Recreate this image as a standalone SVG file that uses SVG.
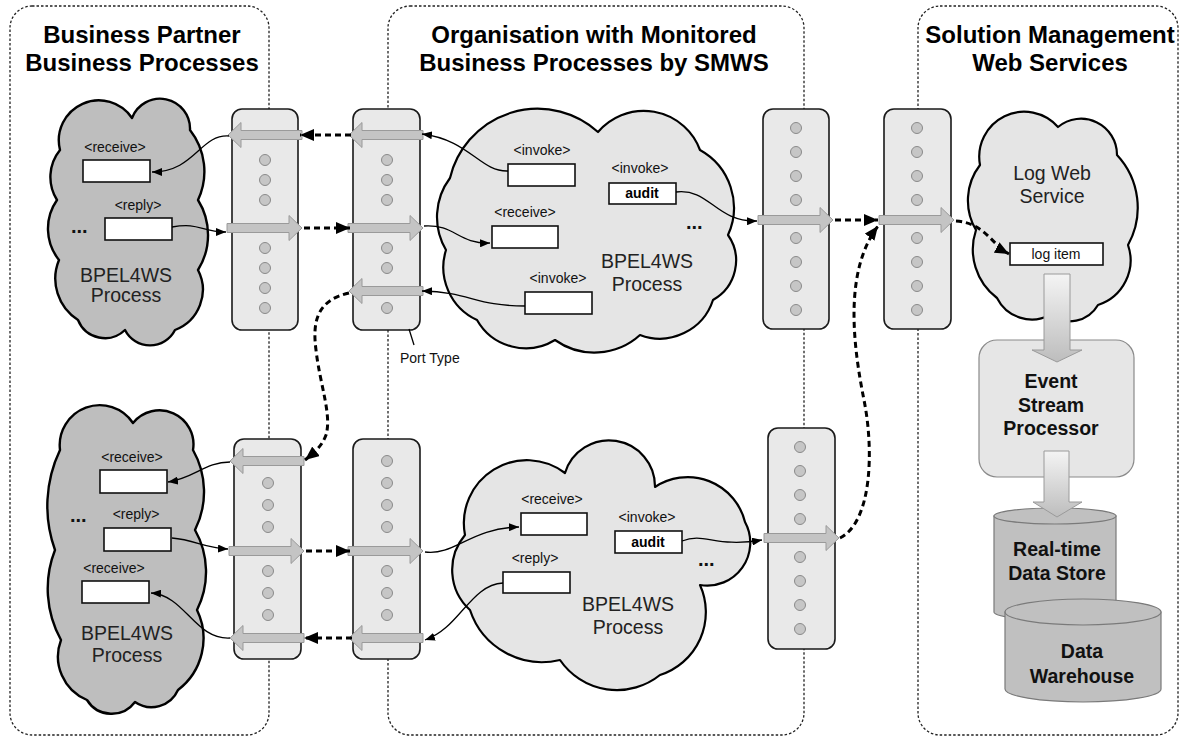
<svg xmlns="http://www.w3.org/2000/svg" width="1184" height="738" viewBox="0 0 1184 738">
  <style>
    .panel{fill:none;stroke:#222;stroke-width:1.3;stroke-dasharray:2.5 2}
    .port{fill:#e9e9e9;stroke:#1a1a1a;stroke-width:1.6}
    .dot{fill:#c6c6c6;stroke:#8a8a8a;stroke-width:1}
    .garrow{fill:#c4c4c4;stroke:#9a9a9a;stroke-width:1}
    .cloudD{fill:#bebebe;stroke:#000;stroke-width:2.4;stroke-linejoin:round}
    .cloudL{fill:#e5e5e5;stroke:#000;stroke-width:2.2;stroke-linejoin:round}
    .box{fill:#fff;stroke:#111;stroke-width:1.6}
    .flow{fill:none;stroke:#000;stroke-width:1.3;marker-end:url(#ah)}
    .msg{fill:none;stroke:#000;stroke-width:3;stroke-dasharray:6 4;marker-end:url(#ahB)}
    .h{font-family:'Liberation Sans',Arial,sans-serif;font-weight:bold;font-size:24px;text-anchor:middle;fill:#000}
    .tag{font-family:'Liberation Sans',Arial,sans-serif;font-size:14px;text-anchor:middle;fill:#111}
    .lbl{font-family:'Liberation Sans',Arial,sans-serif;font-size:14px;fill:#111}
    .bold14{font-family:'Liberation Sans',Arial,sans-serif;font-size:14px;font-weight:bold;text-anchor:middle;fill:#000}
    .proc{font-family:'Liberation Sans',Arial,sans-serif;font-size:19.5px;text-anchor:middle;fill:#222}
    .store{font-family:'Liberation Sans',Arial,sans-serif;font-size:19.5px;font-weight:bold;text-anchor:middle;fill:#111}
    .dots{font-family:'Liberation Sans',Arial,sans-serif;font-size:20px;font-weight:bold;fill:#111}
    .fat{fill:url(#fade);stroke:#9a9a9a;stroke-width:1}
    .sys{fill:#e6e6e6;stroke:#8a8a8a;stroke-width:1.2}
    .cyl{fill:#c0c0c0;stroke:#7a7a7a;stroke-width:1.2}
  </style>
  <defs>
    <marker id="ah" viewBox="0 0 10 8" refX="10" refY="4" markerWidth="10" markerHeight="8" orient="auto" markerUnits="userSpaceOnUse">
      <path d="M0,0 L10,4 L0,8 z" fill="#000"/>
    </marker>
    <marker id="ahB" viewBox="0 0 14 12" refX="14" refY="6" markerWidth="14" markerHeight="12" orient="auto" markerUnits="userSpaceOnUse">
      <path d="M0,0 L14,6 L0,12 z" fill="#000"/>
    </marker>
    <linearGradient id="fade" x1="0" y1="0" x2="0" y2="1">
      <stop offset="0" stop-color="#f4f4f4"/>
      <stop offset="1" stop-color="#bdbdbd"/>
    </linearGradient>
    <!-- grey operation arrows crossing a port type -->
    <path id="opR" d="M0,-4.5 H62 V-12.5 L75,0 L62,12.5 V4.5 H0 Z"/>
    <path id="opL" d="M74,-4.5 H13 V-12.5 L0,0 L13,12.5 V4.5 H74 Z"/>
  </defs>

  <!-- organisational swimlanes -->
  <g id="lanes">
    <rect class="panel" x="10" y="6" width="259" height="729" rx="22"/>
    <rect class="panel" x="388" y="6" width="416" height="729" rx="22"/>
    <rect class="panel" x="918" y="6" width="260" height="729" rx="22"/>
    <text class="h" x="142" y="43">Business Partner</text>
    <text class="h" x="142" y="71">Business Processes</text>
    <text class="h" x="594" y="43">Organisation with Monitored</text>
    <text class="h" x="594" y="71">Business Processes by SMWS</text>
    <text class="h" x="1050" y="43">Solution Management</text>
    <text class="h" x="1050" y="71">Web Services</text>
  </g>

  <!-- partner process (top) -->
  <g id="partner-process-1">
    <path class="cloudD" d="M60,150 A40,40 0 0 1 132,118 A30,30 0 0 1 190,130 A67,67 0 0 1 198,200 A66,66 0 0 1 198,270 A43,43 0 0 1 175,330 A28,28 0 0 1 125,330 A29,29 0 0 1 78,320 A49,49 0 0 1 59,260 A50,50 0 0 1 57,200 A43,43 0 0 1 60,150 Z"/>
    <text class="tag" x="115" y="152">&lt;receive&gt;</text>
    <rect class="box" x="83" y="160" width="67" height="22"/>
    <text class="tag" x="138" y="210">&lt;reply&gt;</text>
    <rect class="box" x="105" y="218" width="67" height="22"/>
    <text class="dots" x="71" y="233">...</text>
    <text class="proc" x="126" y="282">BPEL4WS</text>
    <text class="proc" x="126" y="302">Process</text>
  </g>

  <!-- partner process (bottom) -->
  <g id="partner-process-2">
    <path class="cloudD" d="M60,450 A40,40 0 0 1 133,423 A34,34 0 0 1 193,450 A85,85 0 0 1 195,530 A85,85 0 0 1 197,610 A65,65 0 0 1 178,690 A29,29 0 0 1 135,702 A29,29 0 0 1 87,700 A47,47 0 0 1 61,640 A106,106 0 0 1 55,550 A130,130 0 0 1 60,450 Z"/>
    <text class="tag" x="132" y="462">&lt;receive&gt;</text>
    <rect class="box" x="100" y="470" width="67" height="23"/>
    <text class="dots" x="70" y="522">...</text>
    <text class="tag" x="136" y="519">&lt;reply&gt;</text>
    <rect class="box" x="104" y="528" width="67" height="23"/>
    <text class="tag" x="114" y="573">&lt;receive&gt;</text>
    <rect class="box" x="82" y="581" width="67" height="22"/>
    <text class="proc" x="127" y="640">BPEL4WS</text>
    <text class="proc" x="127" y="662">Process</text>
  </g>

  <!-- monitored process (top) -->
  <g id="monitored-process-1">
    <path class="cloudL" d="M450,178 A90,90 0 0 1 598,132 A60,60 0 0 1 700,150 A66,66 0 0 1 728,235 A45,45 0 0 1 713,300 A56,56 0 0 1 640,335 A68,68 0 0 1 555,340 A56,56 0 0 1 477,320 A58,58 0 0 1 446,250 A65,65 0 0 1 450,178 Z"/>
    <text class="tag" x="542" y="155">&lt;invoke&gt;</text>
    <rect class="box" x="508" y="164" width="67" height="22"/>
    <text class="tag" x="640" y="173">&lt;invoke&gt;</text>
    <rect class="box" x="609" y="183" width="67" height="21"/>
    <text class="bold14" x="642" y="198">audit</text>
    <text class="tag" x="525" y="217">&lt;receive&gt;</text>
    <rect class="box" x="492" y="226" width="66" height="22"/>
    <text class="tag" x="558" y="283">&lt;invoke&gt;</text>
    <rect class="box" x="525" y="292" width="67" height="22"/>
    <text class="dots" x="686" y="229">...</text>
    <text class="proc" x="647" y="268">BPEL4WS</text>
    <text class="proc" x="647" y="291">Process</text>
  </g>

  <!-- monitored process (bottom) -->
  <g id="monitored-process-2">
    <path class="cloudL" d="M465,535 A63,63 0 0 1 565,473 A46,46 0 0 1 655,487 A59,59 0 0 1 745,522 A43,43 0 0 1 700,585 A66,66 0 0 1 660,675 A69,69 0 0 1 560,660 A76,76 0 0 1 470,610 A54,54 0 0 1 465,535 Z"/>
    <text class="tag" x="552" y="504">&lt;receive&gt;</text>
    <rect class="box" x="521" y="513" width="66" height="22"/>
    <text class="tag" x="647" y="522">&lt;invoke&gt;</text>
    <rect class="box" x="615" y="531" width="67" height="22"/>
    <text class="bold14" x="648" y="547">audit</text>
    <text class="tag" x="535" y="563">&lt;reply&gt;</text>
    <rect class="box" x="503" y="572" width="67" height="21"/>
    <text class="dots" x="698" y="566">...</text>
    <text class="proc" x="628" y="611">BPEL4WS</text>
    <text class="proc" x="628" y="634">Process</text>
  </g>

  <!-- log web service -->
  <g id="log-web-service">
    <path class="cloudL" d="M980,165 A45,45 0 0 1 1058,127 A36,36 0 0 1 1117,155 A77,77 0 0 1 1128,245 A47,47 0 0 1 1098,305 A33,33 0 0 1 1050,315 A39,39 0 0 1 997,298 A61,61 0 0 1 976,230 A58,58 0 0 1 980,165 Z"/>
    <text class="proc" x="1052" y="180">Log Web</text>
    <text class="proc" x="1052" y="203">Service</text>
    <rect class="box" x="1010" y="243" width="93" height="22"/>
    <text class="tag" x="1056" y="259">log item</text>
  </g>

  <!-- event stream processor -->
  <g id="event-stream-processor">
    <rect class="sys" x="979" y="340" width="155" height="137" rx="18"/>
    <text class="store" x="1051" y="388">Event</text>
    <text class="store" x="1051" y="412">Stream</text>
    <text class="store" x="1051" y="435">Processor</text>
  </g>

  <!-- real-time data store -->
  <g id="realtime-store">
    <path class="cyl" d="M994,516 V612 A61,8 0 0 0 1116,612 V516 Z"/>
    <ellipse class="cyl" cx="1055" cy="516" rx="61" ry="8"/>
    <text class="store" x="1057" y="556">Real-time</text>
    <text class="store" x="1057" y="580">Data Store</text>
  </g>

  <!-- data warehouse -->
  <g id="data-warehouse">
    <path class="cyl" d="M1005,612 V689 A78,13 0 0 0 1161,689 V612 Z"/>
    <ellipse class="cyl" cx="1083" cy="612" rx="78" ry="13"/>
    <text class="store" x="1082" y="658">Data</text>
    <text class="store" x="1082" y="683">Warehouse</text>
  </g>

  <!-- data flow into the event pipeline -->
  <g id="pipeline-arrows">
    <path class="fat" d="M1044,274 H1070 V350 H1082 L1057,362 L1032,350 H1044 Z"/>
    <path class="fat" d="M1044,451 H1069 V502 H1082 L1057,517 L1033,502 H1044 Z"/>
  </g>

  <!-- port types -->
  <g id="port-partner-1">
    <rect class="port" x="232" y="109" width="66" height="221" rx="10"/>
    <circle class="dot" cx="265" cy="160" r="5.5"/><circle class="dot" cx="265" cy="180" r="5.5"/><circle class="dot" cx="265" cy="200" r="5.5"/>
    <circle class="dot" cx="265" cy="248" r="5.5"/><circle class="dot" cx="265" cy="268" r="5.5"/><circle class="dot" cx="265" cy="288" r="5.5"/><circle class="dot" cx="265" cy="308" r="5.5"/>
    <use href="#opL" class="garrow" x="228" y="135"/>
    <use href="#opR" class="garrow" x="227" y="228"/>
  </g>
  <g id="port-org-1">
    <rect class="port" x="353" y="109" width="67" height="221" rx="10"/>
    <circle class="dot" cx="387" cy="160" r="5.5"/><circle class="dot" cx="387" cy="180" r="5.5"/><circle class="dot" cx="387" cy="200" r="5.5"/>
    <circle class="dot" cx="387" cy="248" r="5.5"/><circle class="dot" cx="387" cy="268" r="5.5"/><circle class="dot" cx="387" cy="308" r="5.5"/>
    <use href="#opL" class="garrow" x="349" y="135"/>
    <use href="#opR" class="garrow" x="348" y="228"/>
    <use href="#opL" class="garrow" x="349" y="291"/>
  </g>
  <g id="port-org-out-1">
    <rect class="port" x="763" y="109" width="66" height="220" rx="10"/>
    <circle class="dot" cx="796" cy="128" r="5.5"/><circle class="dot" cx="796" cy="152" r="5.5"/><circle class="dot" cx="796" cy="176" r="5.5"/><circle class="dot" cx="796" cy="200" r="5.5"/>
    <circle class="dot" cx="796" cy="238" r="5.5"/><circle class="dot" cx="796" cy="262" r="5.5"/><circle class="dot" cx="796" cy="286" r="5.5"/><circle class="dot" cx="796" cy="310" r="5.5"/>
    <use href="#opR" class="garrow" x="758" y="220"/>
  </g>
  <g id="port-log">
    <rect class="port" x="884" y="109" width="67" height="220" rx="10"/>
    <circle class="dot" cx="917" cy="128" r="5.5"/><circle class="dot" cx="917" cy="152" r="5.5"/><circle class="dot" cx="917" cy="176" r="5.5"/><circle class="dot" cx="917" cy="200" r="5.5"/>
    <circle class="dot" cx="917" cy="238" r="5.5"/><circle class="dot" cx="917" cy="262" r="5.5"/><circle class="dot" cx="917" cy="286" r="5.5"/><circle class="dot" cx="917" cy="310" r="5.5"/>
    <use href="#opR" class="garrow" x="879" y="220"/>
  </g>
  <g id="port-partner-2">
    <rect class="port" x="234" y="439" width="67" height="220" rx="10"/>
    <circle class="dot" cx="268" cy="483" r="5.5"/><circle class="dot" cx="268" cy="505" r="5.5"/><circle class="dot" cx="268" cy="527" r="5.5"/>
    <circle class="dot" cx="268" cy="571" r="5.5"/><circle class="dot" cx="268" cy="593" r="5.5"/><circle class="dot" cx="268" cy="615" r="5.5"/>
    <use href="#opL" class="garrow" x="230" y="461"/>
    <use href="#opR" class="garrow" x="229" y="551"/>
    <use href="#opL" class="garrow" x="230" y="638"/>
  </g>
  <g id="port-org-2">
    <rect class="port" x="353" y="439" width="67" height="220" rx="10"/>
    <circle class="dot" cx="387" cy="461" r="5.5"/><circle class="dot" cx="387" cy="483" r="5.5"/><circle class="dot" cx="387" cy="505" r="5.5"/><circle class="dot" cx="387" cy="527" r="5.5"/>
    <circle class="dot" cx="387" cy="571" r="5.5"/><circle class="dot" cx="387" cy="593" r="5.5"/><circle class="dot" cx="387" cy="615" r="5.5"/>
    <use href="#opR" class="garrow" x="348" y="551"/>
    <use href="#opL" class="garrow" x="349" y="638"/>
  </g>
  <g id="port-org-out-2">
    <rect class="port" x="768" y="428" width="67" height="221" rx="10"/>
    <circle class="dot" cx="800" cy="447" r="5.5"/><circle class="dot" cx="800" cy="471" r="5.5"/><circle class="dot" cx="800" cy="495" r="5.5"/><circle class="dot" cx="800" cy="519" r="5.5"/>
    <circle class="dot" cx="800" cy="557" r="5.5"/><circle class="dot" cx="800" cy="581" r="5.5"/><circle class="dot" cx="800" cy="605" r="5.5"/><circle class="dot" cx="800" cy="629" r="5.5"/>
    <use href="#opR" class="garrow" x="764" y="538"/>
  </g>

  <g id="port-type-label">
    <path d="M409,329 L414,345" stroke="#000" stroke-width="1.3" fill="none"/>
    <text class="lbl" x="400" y="363">Port Type</text>
  </g>

  <!-- activity wiring and message exchanges -->
  <g id="connectors">
    <!-- activity to/from operation -->
    <path class="flow" d="M229,136 C200,134 195,172 152,172"/>
    <path class="flow" d="M172,227 C200,222 200,232 226,232"/>
    <path class="flow" d="M424,226 C455,224 458,244 490,243"/>
    <path class="flow" d="M508,171 C480,172 470,140 422,134"/>
    <path class="flow" d="M525,306 C475,306 470,292 422,291"/>
    <path class="flow" d="M676,192 C710,188 715,222 757,221"/>
    <path class="flow" d="M230,462 C205,462 195,478 168,482"/>
    <path class="flow" d="M172,538 C195,540 205,548 228,549"/>
    <path class="flow" d="M425,552 C455,556 470,528 519,527"/>
    <path class="flow" d="M503,583 C470,585 460,628 425,640"/>
    <path class="flow" d="M230,638 C195,640 185,595 151,593"/>
    <path class="flow" d="M682,541 C705,532 715,548 762,540"/>
    <!-- messages between port types -->
    <path class="msg" d="M351,135 L300,135"/>
    <path class="msg" d="M304,228 L350,228"/>
    <path class="msg" d="M835,220 L878,220"/>
    <path class="msg" d="M956,221 C985,223 992,245 1009,254"/>
    <path class="msg" d="M840,538 C872,522 874,450 864,400 C852,340 845,270 878,226"/>
    <path class="msg" d="M349,293 C318,300 312,320 316,350 C320,385 332,415 326,435 C322,446 315,452 305,460"/>
    <path class="msg" d="M306,551 L350,551"/>
    <path class="msg" d="M352,638 L304,638"/>
  </g>
</svg>
